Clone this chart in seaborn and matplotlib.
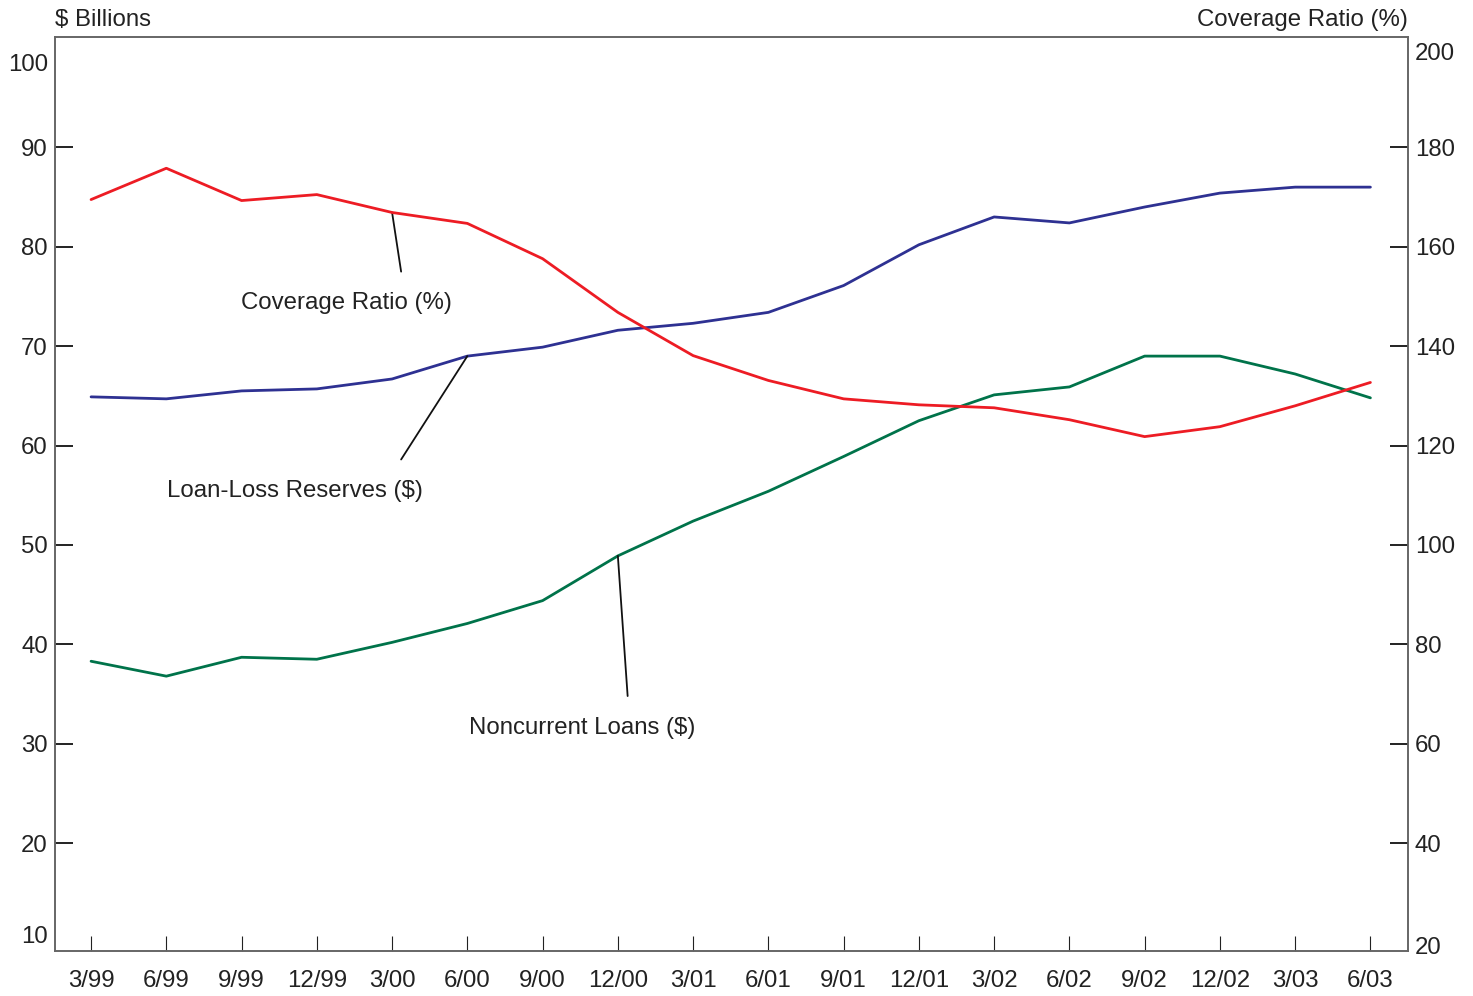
import numpy as np
import pandas as pd
import seaborn as sns
import matplotlib.pyplot as plt
import matplotlib.transforms as mtransforms

# quarters on the x axis
quarters = ["3/99", "6/99", "9/99", "12/99", "3/00", "6/00", "9/00", "12/00", "3/01",
            "6/01", "9/01", "12/01", "3/02", "6/02", "9/02", "12/02", "3/03", "6/03"]

# $ billions (left axis)
reserves = [64.9, 64.7, 65.5, 65.7, 66.7, 69.0, 69.9, 71.6, 72.3,
            73.4, 76.1, 80.2, 83.0, 82.4, 84.0, 85.4, 86.0, 86.0]
noncurrent = [38.3, 36.8, 38.7, 38.5, 40.2, 42.1, 44.4, 48.9, 52.4,
              55.4, 58.9, 62.5, 65.1, 65.9, 69.0, 69.0, 67.2, 64.8]

# coverage ratio % (right axis)
coverage = [169.5, 175.8, 169.3, 170.5, 166.9, 164.7, 157.6, 146.8, 138.1,
            133.1, 129.4, 128.2, 127.6, 125.2, 121.8, 123.8, 128.0, 132.7]

left_ticks = [10, 20, 30, 40, 50, 60, 70, 80, 90, 100]
right_ticks = [20, 40, 60, 80, 100, 120, 140, 160, 180, 200]

RED = "#ed1c24"
BLUE = "#2e3192"
GREEN = "#00734a"

sns.set_theme(style="white")
plt.rcParams["font.family"] = ["Liberation Sans", "DejaVu Sans"]

df = pd.DataFrame({"i": np.arange(len(quarters)), "reserves": reserves,
                   "noncurrent": noncurrent, "coverage": coverage})

fig = plt.figure(figsize=(14.73, 9.96), dpi=100)
ax = fig.add_axes([0.0373, 0.0452, 0.9186, 0.9176])
ax2 = ax.twinx()

sns.lineplot(data=df, x="i", y="reserves", ax=ax, color=BLUE, lw=2.0)
sns.lineplot(data=df, x="i", y="noncurrent", ax=ax, color=GREEN, lw=2.0)
sns.lineplot(data=df, x="i", y="coverage", ax=ax2, color=RED, lw=2.0)

ymin, ymax = 9.15, 101.1
ax.set_ylim(ymin, ymax)
ax2.set_ylim(ymin * 2, ymax * 2)
ax.set_xlim(-0.48, 17.5)

fs = 17.3
ax.set_xticks(df["i"])
ax.set_xticklabels(quarters, fontsize=fs, color="#222222")
ax.set_yticks(left_ticks)
ax.set_yticklabels([str(t) for t in left_ticks], fontsize=fs, color="#222222")
ax2.set_yticks(right_ticks)
ax2.set_yticklabels([str(t) for t in right_ticks], fontsize=fs, color="#222222")
for a in (ax, ax2):
    a.set_xlabel("")
    a.set_ylabel("")

ax.tick_params(axis="x", bottom=True, top=False, direction="in", length=11,
               width=0.8, color="#222222", pad=14)
ax2.tick_params(axis="x", bottom=False, top=False)
ax.tick_params(axis="y", left=True, direction="in", length=13, width=1.4, color="#222222", pad=5)
ax2.tick_params(axis="y", right=True, direction="in", length=13, width=1.4, color="#222222", pad=5)

# no tick marks at the ends of the y scales, end labels nudged inward
for a, (lo_dy, hi_dy) in ((ax, (8, -15)), (ax2, (-3, -4))):
    ticks = a.yaxis.get_major_ticks()
    for k, dy in ((0, lo_dy), (-1, hi_dy)):
        ticks[k].tick1line.set_visible(False)
        ticks[k].tick2line.set_visible(False)
        off = mtransforms.ScaledTranslation(0, dy / 100, fig.dpi_scale_trans)
        for lab in (ticks[k].label1, ticks[k].label2):
            lab.set_transform(lab.get_transform() + off)

for a in (ax, ax2):
    for s in a.spines.values():
        s.set_color("#666666")
        s.set_linewidth(1.2)

fig.text(0.0373, 0.969, "$ Billions", fontsize=fs, color="#222222", ha="left", va="bottom")
fig.text(0.9559, 0.969, "Coverage Ratio (%)", fontsize=fs, color="#222222", ha="right", va="bottom")

# labels with leader lines
def label(text, i, y, x_end, y_end, tx, ty):
    ax.plot([i, x_end], [y, y_end], color="#111111", lw=1.3)
    ax.text(tx, ty, text, fontsize=fs, color="#222222", ha="center", va="center")

label("Coverage Ratio (%)", 4, coverage[4] / 2, 4.12, 77.5, 3.40, 74.3)
label("Loan-Loss Reserves ($)", 5, reserves[5], 4.12, 58.6, 2.71, 55.4)
label("Noncurrent Loans ($)", 7, noncurrent[7], 7.13, 34.8, 6.52, 31.6)

fig.savefig("out.png", dpi=100)
